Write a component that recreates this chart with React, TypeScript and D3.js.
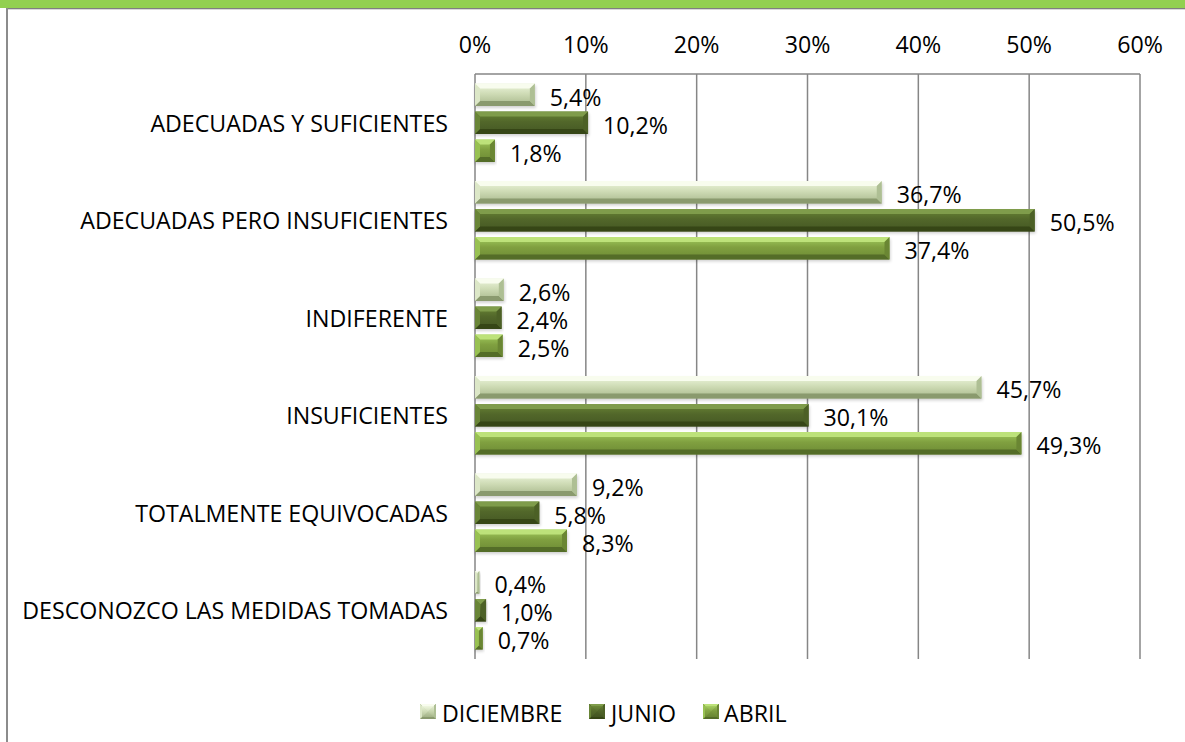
import React from "react";
import * as d3 from "d3";

const categories = [
  "ADECUADAS Y SUFICIENTES",
  "ADECUADAS PERO INSUFICIENTES",
  "INDIFERENTE",
  "INSUFICIENTES",
  "TOTALMENTE EQUIVOCADAS",
  "DESCONOZCO LAS MEDIDAS TOMADAS",
];
const seriesNames = ["DICIEMBRE", "JUNIO", "ABRIL"];
const diciembre = [5.4, 36.7, 2.6, 45.7, 9.2, 0.4];
const junio = [10.2, 50.5, 2.4, 30.1, 5.8, 1.0];
const abril = [1.8, 37.4, 2.5, 49.3, 8.3, 0.7];
const ticks = [0, 10, 20, 30, 40, 50, 60];

const seriesValues = [diciembre, junio, abril];

const styles = [
  { id: "dic", g: ["#eef6de", "#cfdcb6", "#a7b78b"], top: "#f8fcee", bot: "#8a9a6e", right: "#aebf94", left: "#dce7c7" },
  { id: "jun", g: ["#698535", "#52672a", "#445723"], top: "#7f9c4b", bot: "#364616", right: "#4c6026", left: "#698537" },
  { id: "abr", g: ["#a2cc5e", "#80a040", "#6c8a34"], top: "#bde27a", bot: "#546d28", right: "#6a8633", left: "#98c152" },
];

const FONT = "'Open Sans', 'Noto Sans', sans-serif";
const FS = 23.2;

export default function App() {
  const W = 1185, H = 742;
  const x = d3.scaleLinear().domain([0, 60]).range([475, 1140]);
  const y = d3.scaleBand<string>().domain(categories).range([74, 659]);
  const inner = d3.scaleBand<string>().domain(seriesNames).paddingInner(0.2).paddingOuter(0.1);

  const bars: JSX.Element[] = [];
  categories.forEach((c, ci) => {
    const cy = (y(c) as number) + y.bandwidth() / 2;
    inner.range([cy - 42, cy + 42]);
    seriesNames.forEach((s, si) => {
      const v = seriesValues[si][ci];
      const y0 = inner(s) as number;
      const h = inner.bandwidth();
      const y1 = y0 + h;
      const x0 = x(0);
      const x1 = x(v);
      const b = Math.min(5, (x1 - x0) / 2);
      const st = styles[si];
      bars.push(
        <g key={`${ci}-${si}`}>
          <rect x={x0} y={y0 + 2} width={x1 - x0 + 1} height={h} fill="#000" opacity={0.18} filter="url(#blur)" />
          <rect x={x0} y={y0} width={x1 - x0} height={h} fill={`url(#grad-${st.id})`} />
          <polygon points={`${x0},${y0} ${x1},${y0} ${x1 - b},${y0 + b} ${x0 + b},${y0 + b}`} fill={st.top} />
          <polygon points={`${x0},${y1} ${x1},${y1} ${x1 - b},${y1 - b} ${x0 + b},${y1 - b}`} fill={st.bot} />
          <polygon points={`${x1},${y0} ${x1},${y1} ${x1 - b},${y1 - b} ${x1 - b},${y0 + b}`} fill={st.right} />
          <polygon points={`${x0},${y0} ${x0},${y1} ${x0 + b},${y1 - b} ${x0 + b},${y0 + b}`} fill={st.left} />
          <text x={x1 + 15} y={y0 + h / 2 + 2} fontSize={FS} fontFamily={FONT} fill="#000" dominantBaseline="central">
            {v.toFixed(1).replace(".", ",") + "%"}
          </text>
        </g>
      );
    });
  });

  const legendItems = [
    { name: "DICIEMBRE", mx: 420, tx: 442 },
    { name: "JUNIO", mx: 589, tx: 611 },
    { name: "ABRIL", mx: 703, tx: 724 },
  ];

  return (
    <svg width={W} height={H} style={{ position: "absolute", left: 0, top: 0, background: "#fff" }}>
      <defs>
        {styles.map((st) => (
          <linearGradient key={st.id} id={`grad-${st.id}`} x1="0" y1="0" x2="0" y2="1">
            <stop offset="0" stopColor={st.g[0]} />
            <stop offset="0.45" stopColor={st.g[1]} />
            <stop offset="1" stopColor={st.g[2]} />
          </linearGradient>
        ))}
        <filter id="blur" x="-5%" y="-50%" width="110%" height="200%">
          <feGaussianBlur stdDeviation="1.5" />
        </filter>
      </defs>
      <rect x={0} y={0} width={W} height={8} fill="#92d050" />
      <line x1={6} x2={W} y1={8.5} y2={8.5} stroke="#7f7f7f" strokeWidth={1} />
      <line x1={8} x2={W} y1={9.5} y2={9.5} stroke="#d9d9d9" strokeWidth={1} />
      <line x1={7} x2={7} y1={8} y2={H} stroke="#8c8c8c" strokeWidth={2} />

      {ticks.map((t) => (
        <line key={t} x1={x(t)} x2={x(t)} y1={74} y2={659} stroke="#868686" strokeWidth={1.5} />
      ))}
      <line x1={x(0)} x2={x(60)} y1={74} y2={74} stroke="#868686" strokeWidth={1.5} />

      {ticks.map((t) => (
        <text key={t} x={x(t)} y={44} textAnchor="middle" dominantBaseline="central" fontSize={FS} fontFamily={FONT} fill="#000">
          {t + "%"}
        </text>
      ))}

      {categories.map((c) => (
        <text key={c} x={448} y={(y(c) as number) + y.bandwidth() / 2} textAnchor="end" dominantBaseline="central" fontSize={FS} fontFamily={FONT} fill="#000">
          {c}
        </text>
      ))}

      {bars}

      {legendItems.map((it, i) => {
        const st = styles[i];
        const w = 16, hh = 15, my = 704;
        const cx = it.mx + w / 2, cyy = my + hh / 2;
        return (
          <g key={it.name}>
            <rect x={it.mx} y={my} width={w} height={hh} fill={st.bot} />
            <polygon points={`${it.mx},${my} ${it.mx + w},${my} ${cx},${cyy}`} fill={st.top} />
            <polygon points={`${it.mx},${my} ${it.mx},${my + hh} ${cx},${cyy}`} fill={st.left} />
            <polygon points={`${it.mx + w},${my} ${it.mx + w},${my + hh} ${cx},${cyy}`} fill={st.right} />
            <rect x={it.mx + 2} y={my + 2} width={w - 4} height={hh - 4} fill={`url(#grad-${st.id})`} opacity={0.85} />
            <text x={it.tx} y={713} dominantBaseline="central" fontSize={FS} fontFamily={FONT} fill="#000">
              {it.name}
            </text>
          </g>
        );
      })}
    </svg>
  );
}
